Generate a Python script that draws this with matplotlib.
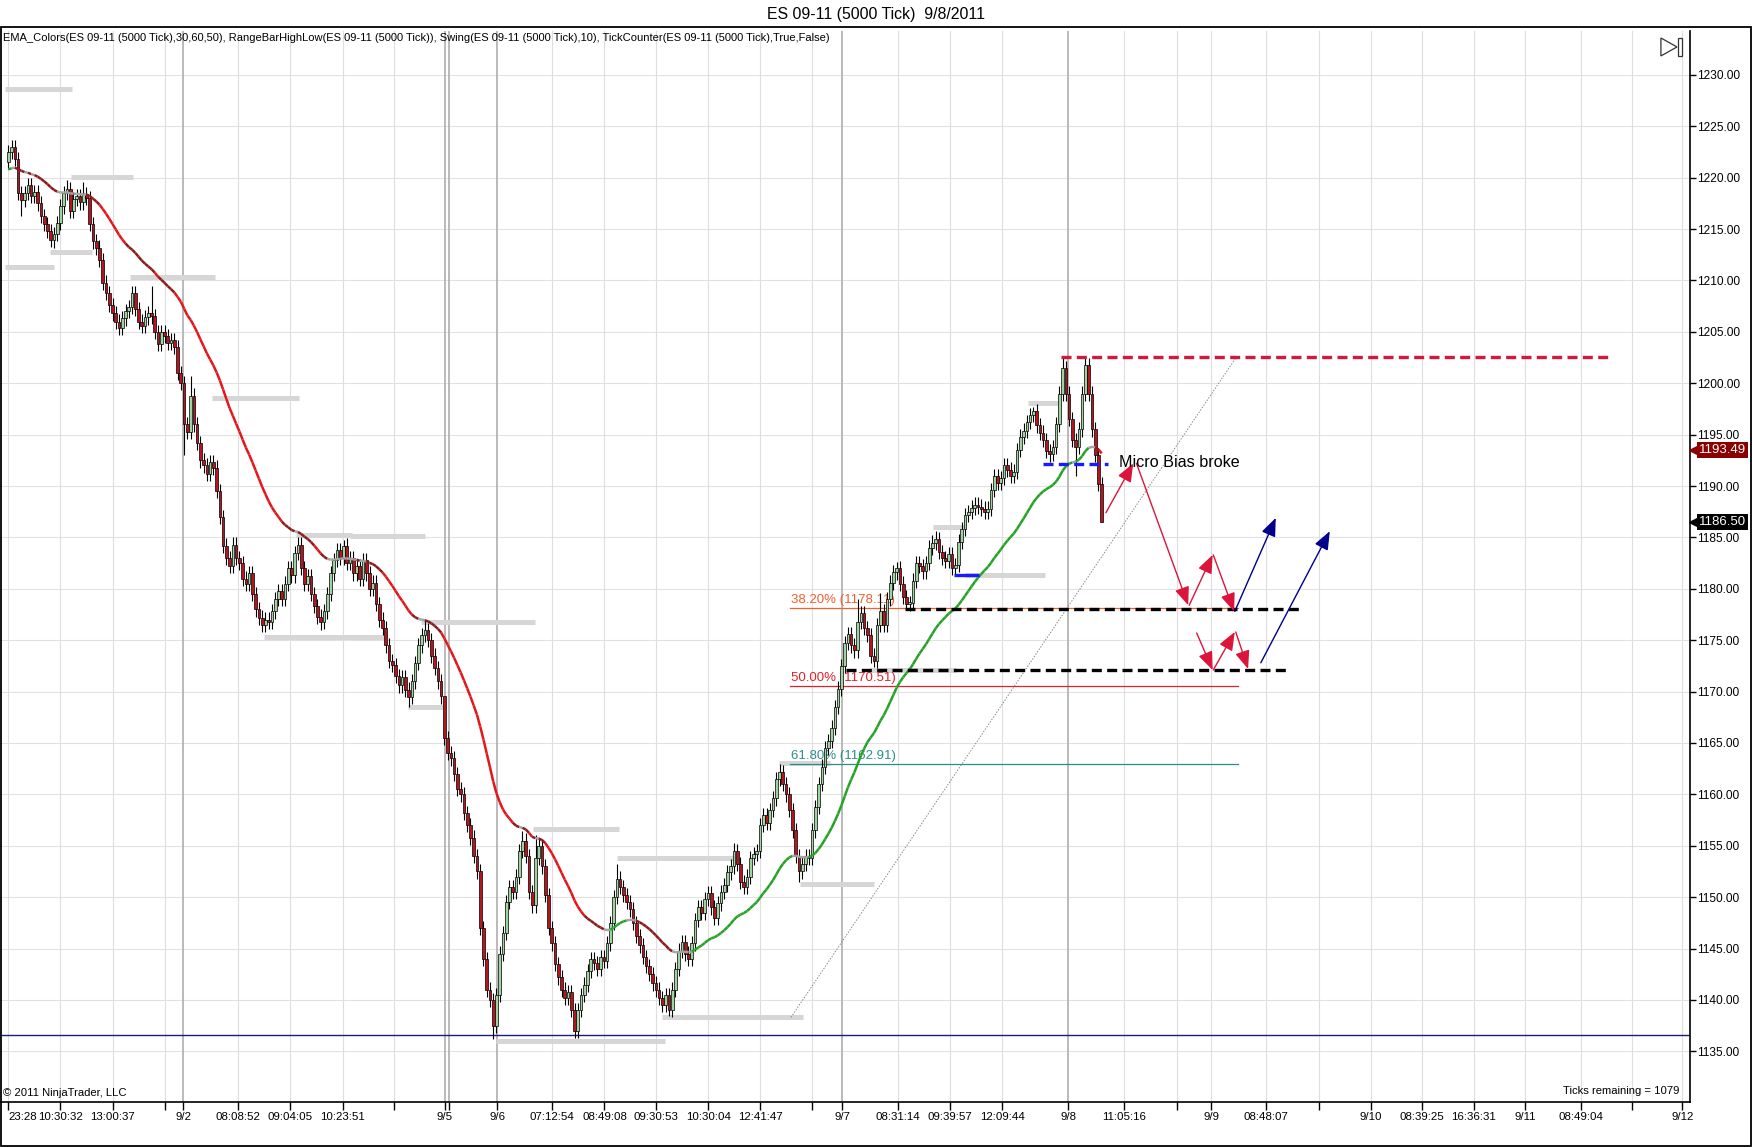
import numpy as np
import matplotlib
matplotlib.use("Agg")
import matplotlib.pyplot as plt
import matplotlib.transforms as mtransforms
from matplotlib import font_manager
from matplotlib.collections import LineCollection
from matplotlib.patches import Rectangle, Polygon

# font: narrow Arial look-alike when available
installed = {f.name for f in font_manager.fontManager.ttflist}
if "Liberation Sans Narrow" in installed:
    FONT, FS = "Liberation Sans Narrow", 1.05
else:
    FONT, FS = "Liberation Sans", 0.95
plt.rcParams["font.family"] = [FONT, "DejaVu Sans"]

# ---- bar data (5000 tick bars), open = previous close ----
first_open = 1221.5
closes = [
    1222.5, 1223.0, 1221.8, 1218.5, 1217.8, 1218.5, 1219.3, 1218.2, 1218.6, 1217.5,
    1216.3, 1215.5, 1214.8, 1213.9, 1214.5, 1215.6, 1217.2, 1218.5, 1218.9, 1216.8,
    1217.9, 1218.2, 1217.6, 1218.4, 1218.0, 1215.5, 1213.8, 1213.2, 1212.0, 1209.8,
    1208.8, 1207.6, 1206.8, 1206.0, 1205.4, 1206.3, 1207.0, 1207.4, 1208.8, 1207.2,
    1206.0, 1205.6, 1206.4, 1206.8, 1206.5, 1205.0, 1203.8, 1205.0, 1204.6, 1203.9,
    1204.2, 1203.5, 1201.0, 1200.0, 1196.0, 1195.3, 1198.8, 1196.0, 1194.2, 1192.5,
    1192.0, 1191.2, 1192.3, 1191.8, 1189.5, 1187.0, 1184.2, 1183.0, 1182.2, 1184.3,
    1183.0, 1182.5, 1181.0, 1180.5, 1181.5, 1179.5, 1178.0, 1177.2, 1176.5, 1177.0,
    1176.8, 1177.8, 1179.0, 1179.8, 1179.0, 1180.5, 1182.0, 1181.3, 1183.5, 1184.3,
    1182.0, 1180.5, 1181.2, 1179.5, 1178.3, 1177.3, 1176.8, 1177.8, 1179.5, 1181.5,
    1182.8, 1183.8, 1183.0, 1184.2, 1182.5, 1183.0, 1181.5, 1182.2, 1181.0, 1182.8,
    1181.5, 1180.0, 1180.6, 1178.5, 1177.0, 1176.2, 1174.5, 1173.0, 1172.6, 1171.5,
    1170.6, 1171.4, 1170.2, 1169.5, 1171.0, 1172.8, 1174.5, 1175.5, 1176.0, 1175.0,
    1173.5, 1172.3, 1171.0, 1169.6, 1165.5, 1164.0, 1163.5, 1162.0, 1160.5, 1160.0,
    1158.2, 1157.0, 1155.8, 1154.0, 1152.5, 1147.0, 1144.0, 1141.0, 1140.0, 1137.5,
    1140.5, 1144.5, 1146.5, 1149.5, 1151.0, 1150.5, 1152.0, 1154.5, 1155.5, 1154.0,
    1150.5, 1149.2, 1153.8, 1155.0, 1153.0, 1150.2, 1147.0, 1145.5, 1143.5, 1142.2,
    1141.0, 1140.2, 1140.8, 1139.0, 1137.0, 1139.0, 1140.5, 1141.5, 1142.8, 1144.0,
    1143.6, 1143.0, 1144.2, 1143.8, 1145.5, 1147.5, 1150.0, 1151.8, 1151.0, 1150.2,
    1149.5, 1148.8, 1147.5, 1146.2, 1145.3, 1144.2, 1143.3, 1142.5, 1141.6, 1141.0,
    1140.2, 1139.5, 1140.5, 1139.0, 1141.0, 1143.0, 1144.8, 1145.6, 1144.5, 1144.0,
    1145.5, 1147.8, 1149.0, 1148.5, 1149.8, 1150.4, 1149.0, 1148.0, 1149.4, 1150.5,
    1151.2, 1152.4, 1153.0, 1154.5, 1153.2, 1151.5, 1151.0, 1152.0, 1153.8, 1154.2,
    1154.5, 1157.0, 1158.0, 1157.2, 1158.5, 1159.6, 1161.5, 1162.2, 1161.0, 1160.0,
    1158.5, 1156.5, 1154.0, 1152.5, 1153.2, 1154.0, 1153.8, 1156.5, 1158.8, 1161.0,
    1162.7, 1164.5, 1165.2, 1166.5, 1168.5, 1170.3, 1172.5, 1174.7, 1175.6, 1174.5,
    1174.0, 1176.8, 1177.6, 1176.2, 1175.5, 1173.5, 1173.0, 1176.5, 1177.8, 1176.5,
    1179.0, 1180.6, 1181.6, 1182.0, 1180.5, 1179.2, 1178.5, 1178.6, 1180.8, 1182.5,
    1182.2, 1181.7, 1182.5, 1184.0, 1184.5, 1184.8, 1183.6, 1183.0, 1182.7, 1183.4,
    1182.0, 1182.3, 1184.6, 1185.8, 1187.2, 1187.5, 1187.9, 1188.2, 1188.0, 1187.8,
    1187.5, 1187.8, 1189.6, 1191.0, 1190.3, 1190.8, 1192.0, 1191.6, 1191.0, 1191.4,
    1193.5, 1194.8, 1195.4, 1196.2, 1196.9, 1197.3, 1195.9, 1195.2, 1194.5, 1193.4,
    1193.1, 1193.8, 1196.0, 1199.0, 1201.5, 1199.0, 1196.5, 1194.5, 1193.8, 1195.5,
    1199.0, 1201.8, 1199.0, 1195.5, 1193.0, 1190.2, 1186.5,
]
wick = 0.7
spike_hi_idx = [1, 18, 23, 38, 44, 56, 103, 128, 134, 158, 162, 187, 223, 237, 261, 268, 273, 285, 315, 324, 331]
spike_hi_val = [1223.7, 1219.8, 1219.6, 1209.5, 1209.5, 1200.7, 1184.7, 1177.0, 1166.7, 1156.4, 1156.0,
                1153.2, 1155.3, 1163.0, 1179.0, 1179.6, 1182.6, 1185.6, 1197.7, 1202.6, 1202.6]
spike_lo_idx = [4, 13, 54, 96, 123, 133, 149, 174, 203, 243, 266, 276, 290, 320, 328, 336]
spike_lo_val = [1216.3, 1213.3, 1193.0, 1176.0, 1168.5, 1168.8, 1136.2, 1136.3, 1138.4, 1151.5,
                1172.4, 1178.0, 1181.3, 1192.3, 1191.0, 1186.5]

# ---- x axis (bar slots) ----
tick_pos = [0, 16, 32, 48, 53.7, 70.7, 86.7, 102.8, 118.6, 134.1, 135.3, 150.2, 167.2, 183.2,
            199.1, 215.1, 231.1, 247.1, 256.3, 273.5, 289.4, 305.4, 325.8, 343, 359.1, 369.6,
            386.4, 402.8, 418.7, 434.5, 450.3, 466.1, 483.3, 499.1, 514.5]
tick_lab = ["23:28", "10:30:32", "13:00:37", "", "9/2", "08:08:52", "09:04:05", "10:23:51", "",
            "9/5", "", "9/6", "07:12:54", "08:49:08", "09:30:53", "10:30:04", "12:41:47", "",
            "9/7", "08:31:14", "09:39:57", "12:09:44", "9/8", "11:05:16", "", "9/9", "08:48:07",
            "", "9/10", "08:39:25", "16:36:31", "9/11", "08:49:04", "", "9/12"]
day_breaks = [53.7, 134.1, 135.3, 150.2, 256.3, 325.8]

# ---- swing / range bar high-low levels ----
swing_price = [1228.6, 1220.1, 1211.3, 1212.8, 1210.3, 1198.6, 1185.2, 1185.1, 1175.3, 1176.8, 1168.5,
               1156.6, 1153.8, 1136.0, 1138.3, 1151.3, 1163.1, 1172.1, 1186.0, 1181.3, 1198.1]
swing_start = [-0.9, 19.1, -0.9, 12.9, 37.3, 62.7, 88.4, 104.9, 78.5, 126.9, 122.7,
               161.2, 186.9, 149.9, 201.0, 243.3, 236.7, 264.9, 284.1, 294.1, 313.3]
swing_end = [19.7, 38.3, 13.9, 25.6, 63.4, 89.4, 105.6, 127.9, 115.9, 161.9, 134.1,
             187.6, 223.4, 201.7, 244.3, 265.9, 252.5, 291.3, 294.1, 318.5, 322.9]

# ---- fibonacci retracement ----
fib_price = [1178.11, 1170.51, 1162.91]
fib_label = ["38.20% (1178.11)", "50.00% (1170.51)", "61.80% (1162.91)"]
fib_color = ["#f0602e", "#e3202a", "#2f8c8c"]
fib_from, fib_to = 240.2, 377.9

# ---- drawn objects ----
support_level = 1136.6
top_level, top_from, top_to = 1202.6, 323.6, 492.2
bias_level, bias_from, bias_to = 1192.1, 318.1, 338.0
blue_seg = (1181.3, 290.7, 298.2)
black_levels = [1178.0, 1172.1]
black_from = [275.5, 257.3]
black_to = [396.7, 392.8]
trend_x = [240.5, 377.5]
trend_y = [1138.3, 1202.6]

red_x0 = [337.3, 346.7, 362.9, 370.3, 365.2, 370.3, 377.2]
red_y0 = [1187.4, 1192.2, 1178.4, 1183.3, 1175.7, 1172.1, 1175.8]
red_x1 = [345.7, 362.6, 370.1, 376.7, 370.1, 376.9, 381.0]
red_y1 = [1192.2, 1178.4, 1183.3, 1177.8, 1172.1, 1175.8, 1172.2]
navy_x0 = [376.9, 384.9]
navy_y0 = [1177.8, 1172.8]
navy_x1 = [389.5, 406.1]
navy_y1 = [1186.9, 1185.6]

ema_period = 35
ema_start = 1220.8
last_price = 1186.50
ema_label = 1193.49

# ---------------------------------------------------------------
c = np.array(closes)
n = len(c)
idx = np.arange(n)
o = np.r_[first_open, c[:-1]]
hi = np.maximum(o, c) + wick
lo = np.minimum(o, c) - wick
hi[spike_hi_idx] = spike_hi_val
lo[spike_lo_idx] = spike_lo_val

alpha = 2.0 / (ema_period + 1)
ema = np.empty(n)
ema[0] = ema_start
for k in range(1, n):
    ema[k] = ema[k - 1] + alpha * (c[k] - ema[k - 1])

fig = plt.figure(figsize=(17.52, 11.47), dpi=100)
ax = fig.add_axes([0.0, 0.03923, 0.9646, 0.93374])
ax.set_xlim(-2.575, 516.8)
ax.set_ylim(1130.07, 1234.27)

# grid
yt = np.arange(1135, 1231, 5)
for y in yt:
    ax.axhline(y, color="#e2e2e2", lw=0.8, zorder=0)
for p in tick_pos:
    if p not in day_breaks:
        ax.axvline(p, color="#dedede", lw=0.8, zorder=0)
for p in day_breaks:
    ax.axvline(p, color="#b4b4b4", lw=1.3, zorder=0)

# swing levels
for pr, a, b in zip(swing_price, swing_start, swing_end):
    ax.plot([a, b], [pr, pr], color="#d6d6d6", lw=3.6, solid_capstyle="butt", zorder=1)

# fib
for pr, lab, col in zip(fib_price, fib_label, fib_color):
    ax.plot([fib_from, fib_to], [pr, pr], color=col, lw=0.9, zorder=2)
    ax.text(fib_from + 0.4, pr + 0.2, lab, color=col, fontsize=10 * FS, va="bottom", ha="left", zorder=2)

ax.axhline(support_level, color="#1c1c7c", lw=1.0, zorder=2)
ax.plot(trend_x, trend_y, color="#8a8a8a", lw=0.7, ls=(0, (1.5, 1.5)), zorder=2)

# candles
up = c >= o
body_lo = np.minimum(o, c)
body_h = np.maximum(np.abs(c - o), 0.2)
ax.vlines(idx, lo, hi, color="black", lw=0.8, zorder=3)
ax.bar(idx, body_h, bottom=body_lo, width=0.82,
       color=np.where(up, "#9fd39f", "#b8141e"), edgecolor="black", linewidth=0.5, zorder=4)

# EMA colored by slope
slope = np.diff(ema)
seg = np.stack([np.column_stack([idx[:-1], ema[:-1]]), np.column_stack([idx[1:], ema[1:]])], axis=1)
cols = []
for s in slope:
    if s < -0.38:
        cols.append("#e3161c")
    elif s < -0.10:
        cols.append("#8c1c1c")
    elif s <= 0.10:
        cols.append("#a3a3a3")
    else:
        cols.append("#26a226")
ax.add_collection(LineCollection(seg, colors=cols, linewidths=1.8, zorder=5))

# user drawn lines
for pr, a, b in zip(black_levels, black_from, black_to):
    ax.plot([a, b], [pr, pr], color="black", lw=2.4, ls=(0, (3, 1.6)), zorder=6)
ax.plot([top_from, top_to], [top_level, top_level], color="#d3173f", lw=2.4, ls=(0, (3, 1.6)), zorder=6)
ax.plot([bias_from, bias_to], [bias_level, bias_level], color="#1a1aff", lw=2.4, ls=(0, (3, 1.6)), zorder=6)
ax.plot([blue_seg[1], blue_seg[2]], [blue_seg[0], blue_seg[0]], color="#1a1aff", lw=2.4,
        solid_capstyle="butt", zorder=6)

def arrows(x0, y0, x1, y1, col):
    for a, b, cc, d in zip(x0, y0, x1, y1):
        ax.annotate("", xy=(cc, d), xytext=(a, b), zorder=7,
                    arrowprops=dict(arrowstyle="-|>,head_length=0.8,head_width=0.32",
                                    mutation_scale=14, color=col, lw=1.0,
                                    shrinkA=0, shrinkB=0))

arrows(red_x0, red_y0, red_x1, red_y1, "#dc143c")
arrows(navy_x0, navy_y0, navy_x1, navy_y1, "#00008b")

ax.text(341.4, 1192.3, "Micro Bias broke", fontsize=12.2 * FS, va="center", ha="left", zorder=7)

# axes styling
for s in ["top", "left"]:
    ax.spines[s].set_visible(False)
ax.spines["right"].set_linewidth(1.2)
ax.spines["bottom"].set_linewidth(1.2)
ax.yaxis.tick_right()
ax.set_yticks(yt)
ax.set_yticklabels([f"{v:.2f}" for v in yt])
ax.tick_params(axis="y", direction="out", length=4, width=1, pad=1, labelsize=9 * FS)
ax.set_xticks(tick_pos)
ax.set_xticklabels(tick_lab)
ax.tick_params(axis="x", direction="out", length=6, width=1, pad=1, labelsize=8.7 * FS)
ax.get_xticklabels()[0].set_ha("left")

# price markers on the right axis
mix = mtransforms.blended_transform_factory(ax.transAxes, ax.transData)
for val, fc in [(ema_label, "#8b0000"), (last_price, "black")]:
    ax.plot([1.0030], [val], marker="<", ms=8, color=fc, transform=mix, clip_on=False, zorder=8)
    ax.text(1.0052, val, f"{val:.2f}", transform=mix, color="white", fontsize=10 * FS,
            va="center", ha="left", zorder=8,
            bbox=dict(boxstyle="square,pad=0.14", fc=fc, ec="none"))

# chart texts
ax.text(0.002, 0.9935, "EMA_Colors(ES 09-11 (5000 Tick),30,60,50), RangeBarHighLow(ES 09-11 (5000 Tick)), "
        "Swing(ES 09-11 (5000 Tick),10), TickCounter(ES 09-11 (5000 Tick),True,False)",
        transform=ax.transAxes, fontsize=8.4 * FS, va="center", ha="left")
ax.text(0.002, 0.004, "\u00a9 2011 NinjaTrader, LLC", transform=ax.transAxes, fontsize=8.5 * FS,
        va="bottom", ha="left")
ax.text(0.994, 0.0105, "Ticks remaining = 1079", transform=ax.transAxes, fontsize=8.5 * FS,
        va="center", ha="right")
fig.text(0.5, 1 - 14 / 1147, "ES 09-11 (5000 Tick)  9/8/2011", fontsize=12 * FS, ha="center", va="center")

# play-to-end icon
ax.add_patch(Polygon([(0.9828, 0.9935), (0.9828, 0.9767), (0.9923, 0.9851)], closed=True,
                     fill=False, ec="#333333", lw=0.9, transform=ax.transAxes, clip_on=False))
ax.add_patch(Rectangle((0.9929, 0.9767), 0.0024, 0.0168, fill=False, ec="#333333", lw=0.9,
                       transform=ax.transAxes, clip_on=False))

# outer frame
fig.add_artist(Rectangle((0.0004, 0.0006), 0.9990, 1 - 26.5 / 1147 - 0.0006, fill=False,
                         ec="black", lw=1.3, transform=fig.transFigure))

fig.savefig("out.png", dpi=100)
